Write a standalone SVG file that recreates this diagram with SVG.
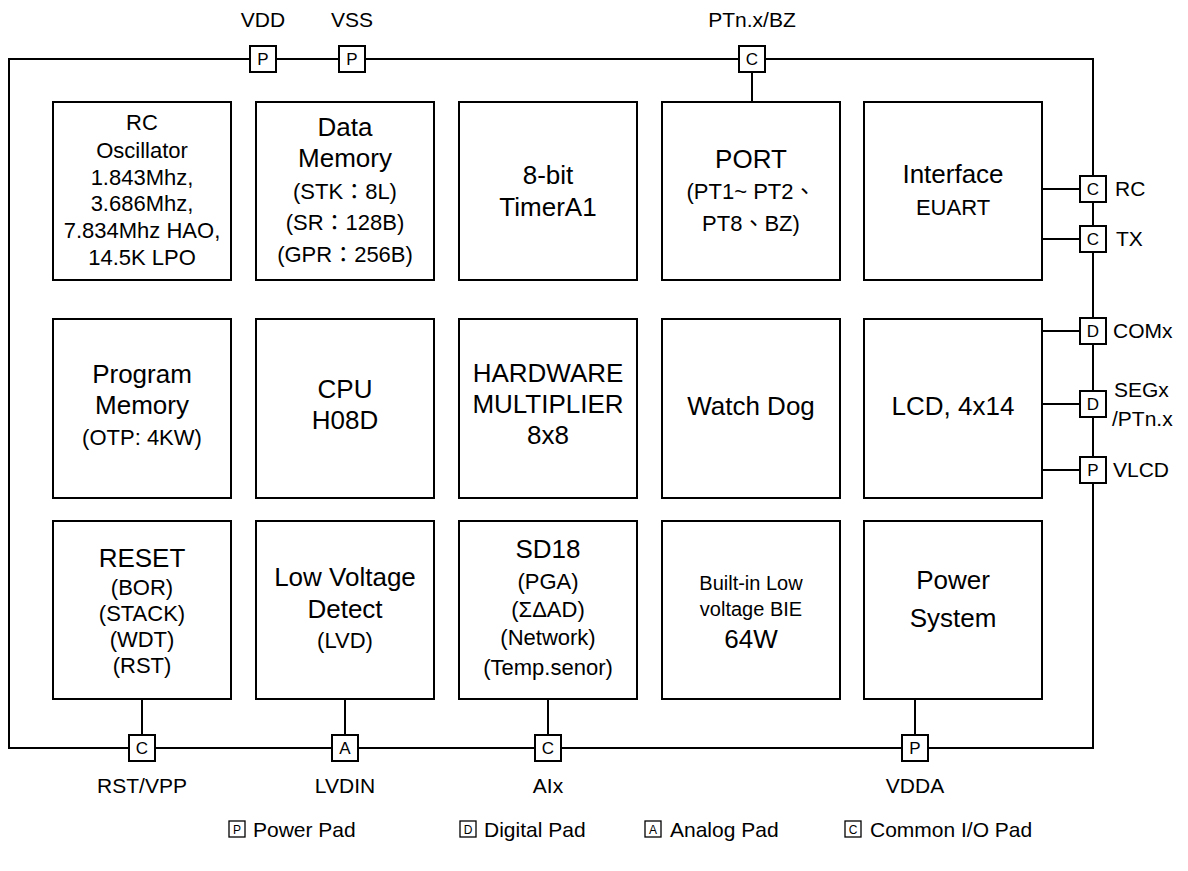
<svg xmlns="http://www.w3.org/2000/svg" width="1188" height="871" viewBox="0 0 1188 871">
<style>
text{font-family:"Liberation Sans","Noto Sans CJK TC",sans-serif;fill:#000;}
.blk{fill:#fff;stroke:#000;stroke-width:2;}
.pad{fill:#fff;stroke:#000;stroke-width:2;}
.lp{fill:#fff;stroke:#000;stroke-width:1.3;}
.wire{fill:none;stroke:#000;stroke-width:2;}
.h{font-size:26px;text-anchor:middle;}
.s{font-size:22px;text-anchor:middle;}
.m{font-size:20px;text-anchor:middle;}
.pl{font-size:17px;text-anchor:middle;}
.lbl{font-size:21px;}
.lbc{font-size:21px;text-anchor:middle;}
.lg{font-size:21px;}
.ll{font-size:12px;text-anchor:middle;}
</style>
<rect width="1188" height="871" fill="#fff"/>
<g id="connectors">
<rect class="wire" x="9" y="59" width="1084" height="689"/>
<line class="wire" x1="752" y1="72" x2="752" y2="102"/>
<line class="wire" x1="1042" y1="189" x2="1080" y2="189"/>
<line class="wire" x1="1042" y1="239" x2="1080" y2="239"/>
<line class="wire" x1="1042" y1="331" x2="1080" y2="331"/>
<line class="wire" x1="1042" y1="404" x2="1080" y2="404"/>
<line class="wire" x1="1042" y1="470" x2="1080" y2="470"/>
<line class="wire" x1="142" y1="699" x2="142" y2="735"/>
<line class="wire" x1="345" y1="699" x2="345" y2="735"/>
<line class="wire" x1="548" y1="699" x2="548" y2="735"/>
<line class="wire" x1="915" y1="699" x2="915" y2="735"/>
</g>
<g id="rc-osc"><rect class="blk" x="53" y="102" width="178" height="178"/>
<text class="s" x="142" y="130">RC</text><text class="s" x="142" y="158">Oscillator</text><text class="s" x="142" y="185">1.843Mhz,</text><text class="s" x="142" y="211">3.686Mhz,</text><text class="s" x="142" y="238">7.834Mhz HAO,</text><text class="s" x="142" y="265">14.5K LPO</text></g>
<g id="data-mem"><rect class="blk" x="256" y="102" width="178" height="178"/>
<text class="h" x="345" y="136">Data</text><text class="h" x="345" y="167">Memory</text><text class="s" x="345" y="199">(STK：8L)</text><text class="s" x="345" y="230">(SR：128B)</text><text class="s" x="345" y="262">(GPR：256B)</text></g>
<g id="timer"><rect class="blk" x="459" y="102" width="178" height="178"/>
<text class="h" x="548" y="184">8-bit</text><text class="h" x="548" y="216">TimerA1</text></g>
<g id="port"><rect class="blk" x="662" y="102" width="178" height="178"/>
<text class="h" x="751" y="168">PORT</text><text class="s" x="751" y="199">(PT1~ PT2、</text><text class="s" x="751" y="231">PT8、BZ)</text></g>
<g id="interface"><rect class="blk" x="864" y="102" width="178" height="178"/>
<text class="h" x="953" y="183">Interface</text><text class="s" x="953" y="215">EUART</text></g>
<g id="prog-mem"><rect class="blk" x="53" y="319" width="178" height="179"/>
<text class="h" x="142" y="383">Program</text><text class="h" x="142" y="414">Memory</text><text class="s" x="142" y="445">(OTP: 4KW)</text></g>
<g id="cpu"><rect class="blk" x="256" y="319" width="178" height="179"/>
<text class="h" x="345" y="398">CPU</text><text class="h" x="345" y="429">H08D</text></g>
<g id="multiplier"><rect class="blk" x="459" y="319" width="178" height="179"/>
<text class="h" x="548" y="382">HARDWARE</text><text class="h" x="548" y="413">MULTIPLIER</text><text class="h" x="548" y="444">8x8</text></g>
<g id="watchdog"><rect class="blk" x="662" y="319" width="178" height="179"/>
<text class="h" x="751" y="415">Watch Dog</text></g>
<g id="lcd"><rect class="blk" x="864" y="319" width="178" height="179"/>
<text class="h" x="953" y="415">LCD, 4x14</text></g>
<g id="reset"><rect class="blk" x="53" y="521" width="178" height="178"/>
<text class="h" x="142" y="567">RESET</text><text class="s" x="142" y="595">(BOR)</text><text class="s" x="142" y="621">(STACK)</text><text class="s" x="142" y="647">(WDT)</text><text class="s" x="142" y="673">(RST)</text></g>
<g id="lvd"><rect class="blk" x="256" y="521" width="178" height="178"/>
<text class="h" x="345" y="586">Low Voltage</text><text class="h" x="345" y="618">Detect</text><text class="s" x="345" y="648">(LVD)</text></g>
<g id="sd18"><rect class="blk" x="459" y="521" width="178" height="178"/>
<text class="h" x="548" y="558">SD18</text><text class="s" x="548" y="589">(PGA)</text><text class="s" x="548" y="617">(ΣΔAD)</text><text class="s" x="548" y="645">(Network)</text><text class="s" x="548" y="675">(Temp.senor)</text></g>
<g id="bie"><rect class="blk" x="662" y="521" width="178" height="178"/>
<text class="m" x="751" y="590">Built-in Low</text><text class="m" x="751" y="616">voltage BIE</text><text class="h" x="751" y="648">64W</text></g>
<g id="power"><rect class="blk" x="864" y="521" width="178" height="178"/>
<text class="h" x="953" y="589">Power</text><text class="h" x="953" y="627">System</text></g>
<g id="pad-vdd"><rect class="pad" x="250" y="46" width="26" height="26"/><text class="pl" x="263" y="65">P</text><text class="lbc" x="263" y="27">VDD</text></g>
<g id="pad-vss"><rect class="pad" x="339" y="46" width="26" height="26"/><text class="pl" x="352" y="65">P</text><text class="lbc" x="352" y="27">VSS</text></g>
<g id="pad-bz"><rect class="pad" x="739" y="46" width="26" height="26"/><text class="pl" x="752" y="65">C</text><text class="lbc" x="752" y="27">PTn.x/BZ</text></g>
<g id="pad-rc"><rect class="pad" x="1080" y="176" width="26" height="26"/><text class="pl" x="1093" y="195">C</text><text class="lbl" x="1115" y="196">RC</text></g>
<g id="pad-tx"><rect class="pad" x="1080" y="226" width="26" height="26"/><text class="pl" x="1093" y="245">C</text><text class="lbl" x="1116" y="246">TX</text></g>
<g id="pad-com"><rect class="pad" x="1080" y="318" width="26" height="26"/><text class="pl" x="1093" y="337">D</text><text class="lbl" x="1113" y="338">COMx</text></g>
<g id="pad-seg"><rect class="pad" x="1080" y="391" width="26" height="26"/><text class="pl" x="1093" y="410">D</text><text class="lbl" x="1114" y="397">SEGx</text><text class="lbl" x="1112" y="426">/PTn.x</text></g>
<g id="pad-vlcd"><rect class="pad" x="1080" y="457" width="26" height="26"/><text class="pl" x="1093" y="476">P</text><text class="lbl" x="1113" y="477">VLCD</text></g>
<g id="pad-rst"><rect class="pad" x="129" y="735" width="26" height="26"/><text class="pl" x="142" y="754">C</text><text class="lbc" x="142" y="793">RST/VPP</text></g>
<g id="pad-lvdin"><rect class="pad" x="332" y="735" width="26" height="26"/><text class="pl" x="345" y="754">A</text><text class="lbc" x="345" y="793">LVDIN</text></g>
<g id="pad-aix"><rect class="pad" x="535" y="735" width="26" height="26"/><text class="pl" x="548" y="754">C</text><text class="lbc" x="548" y="793">AIx</text></g>
<g id="pad-vdda"><rect class="pad" x="902" y="735" width="26" height="26"/><text class="pl" x="915" y="754">P</text><text class="lbc" x="915" y="793">VDDA</text></g>
<g id="legend">
<rect class="lp" x="229" y="821" width="16" height="16"/><text class="ll" x="237" y="834">P</text><text class="lg" x="253" y="837">Power Pad</text>
<rect class="lp" x="460" y="821" width="16" height="16"/><text class="ll" x="468" y="834">D</text><text class="lg" x="484" y="837">Digital Pad</text>
<rect class="lp" x="645" y="821" width="16" height="16"/><text class="ll" x="653" y="834">A</text><text class="lg" x="670" y="837">Analog Pad</text>
<rect class="lp" x="845" y="821" width="16" height="16"/><text class="ll" x="853" y="834">C</text><text class="lg" x="870" y="837">Common I/O Pad</text>
</g>
</svg>
